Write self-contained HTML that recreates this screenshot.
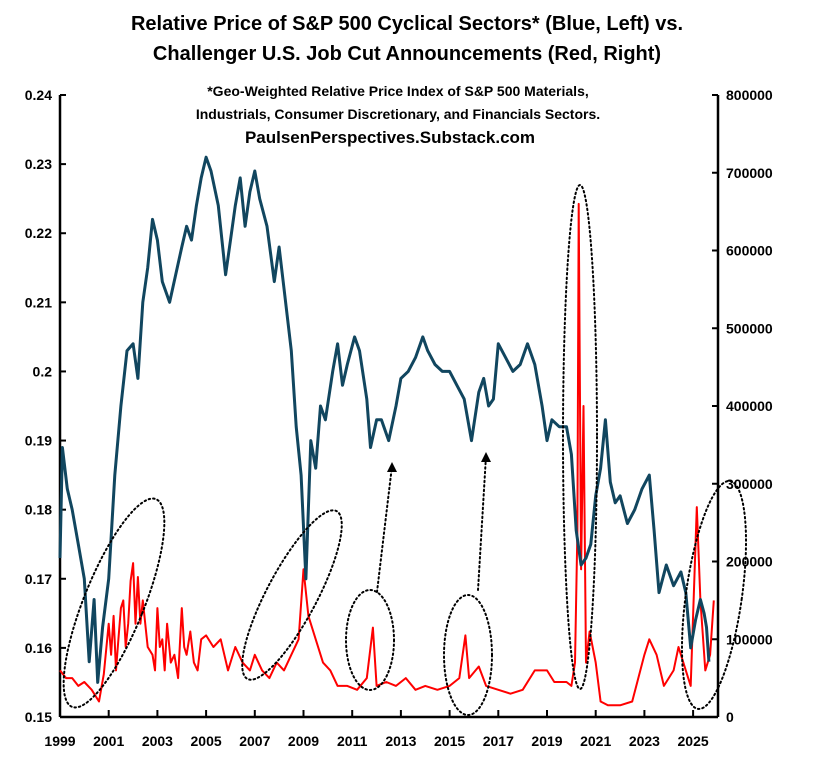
<!DOCTYPE html>
<html><head><meta charset="utf-8"><style>
body{margin:0;background:#fff;width:815px;height:760px;overflow:hidden}
text{font-family:"Liberation Sans",Arial,sans-serif;font-weight:bold;fill:#000}
</style></head><body>
<svg id="chart" width="815" height="760" viewBox="0 0 815 760">
<text x="407" y="30" font-size="20" text-anchor="middle">Relative Price of S&amp;P 500 Cyclical Sectors* (Blue, Left) vs.</text>
<text x="407" y="60" font-size="20" text-anchor="middle">Challenger U.S. Job Cut Announcements (Red, Right)</text>
<text x="398" y="96" font-size="14" text-anchor="middle">*Geo-Weighted Relative Price Index of S&amp;P 500 Materials,</text>
<text x="398" y="119" font-size="14" text-anchor="middle">Industrials, Consumer Discretionary, and Financials Sectors.</text>
<text x="390" y="143" font-size="17" text-anchor="middle">PaulsenPerspectives.Substack.com</text>
<g id="axes"></g><g id="series"></g><g id="annot"></g>
</svg>
<script>
const xTicks=[1999,2001,2003,2005,2007,2009,2011,2013,2015,2017,2019,2021,2023,2025];
const leftTicks=[0.15,0.16,0.17,0.18,0.19,0.2,0.21,0.22,0.23,0.24];
const leftLabels=["0.15","0.16","0.17","0.18","0.19","0.2","0.21","0.22","0.23","0.24"];
const rightTicks=[0,100000,200000,300000,400000,500000,600000,700000,800000];
const blueT=[1999,1999.1,1999.3,1999.5,1999.75,2000,2000.2,2000.4,2000.55,2000.75,2001,2001.25,2001.5,2001.75,2002,2002.2,2002.4,2002.6,2002.8,2003,2003.2,2003.5,2003.75,2004,2004.2,2004.4,2004.6,2004.8,2005,2005.2,2005.5,2005.8,2006,2006.2,2006.4,2006.6,2006.8,2007,2007.2,2007.5,2007.8,2008,2008.2,2008.5,2008.7,2008.9,2009.1,2009.3,2009.5,2009.7,2009.9,2010.2,2010.4,2010.6,2010.8,2011.1,2011.3,2011.6,2011.75,2012,2012.2,2012.5,2012.8,2013,2013.3,2013.6,2013.9,2014.1,2014.4,2014.7,2015,2015.3,2015.6,2015.9,2016.2,2016.4,2016.6,2016.8,2017,2017.3,2017.6,2017.9,2018.2,2018.5,2018.8,2019,2019.2,2019.5,2019.8,2020,2020.2,2020.4,2020.6,2020.8,2021,2021.2,2021.4,2021.6,2021.8,2022,2022.3,2022.6,2022.9,2023.2,2023.4,2023.6,2023.9,2024.2,2024.5,2024.7,2024.9,2025.1,2025.3,2025.45,2025.55,2025.65];
const blueV=[0.173,0.189,0.183,0.18,0.175,0.17,0.158,0.167,0.155,0.163,0.17,0.185,0.195,0.203,0.204,0.199,0.21,0.215,0.222,0.219,0.213,0.21,0.214,0.218,0.221,0.219,0.224,0.228,0.231,0.229,0.224,0.214,0.219,0.224,0.228,0.221,0.226,0.229,0.225,0.221,0.213,0.218,0.212,0.203,0.192,0.185,0.17,0.19,0.186,0.195,0.193,0.2,0.204,0.198,0.201,0.205,0.203,0.196,0.189,0.193,0.193,0.19,0.195,0.199,0.2,0.202,0.205,0.203,0.201,0.2,0.2,0.198,0.196,0.19,0.197,0.199,0.195,0.196,0.204,0.202,0.2,0.201,0.204,0.201,0.195,0.19,0.193,0.192,0.192,0.188,0.177,0.172,0.173,0.175,0.182,0.186,0.193,0.184,0.181,0.182,0.178,0.18,0.183,0.185,0.177,0.168,0.172,0.169,0.171,0.168,0.16,0.164,0.167,0.165,0.163,0.158,0.155];
const redT=[1999,1999.25,1999.5,1999.75,2000,2000.3,2000.6,2000.8,2001,2001.1,2001.2,2001.3,2001.4,2001.5,2001.6,2001.7,2001.8,2001.9,2002,2002.1,2002.2,2002.3,2002.4,2002.6,2002.8,2002.9,2003,2003.1,2003.2,2003.3,2003.4,2003.55,2003.7,2003.85,2004,2004.1,2004.2,2004.35,2004.5,2004.65,2004.8,2005,2005.3,2005.6,2005.9,2006.2,2006.5,2006.8,2007,2007.3,2007.6,2007.9,2008.2,2008.5,2008.8,2009,2009.2,2009.5,2009.8,2010.1,2010.4,2010.8,2011.2,2011.6,2011.85,2012,2012.4,2012.8,2013.2,2013.6,2014,2014.5,2015,2015.4,2015.65,2015.8,2016.2,2016.5,2017,2017.5,2018,2018.5,2019,2019.3,2019.8,2020,2020.15,2020.25,2020.3,2020.4,2020.5,2020.6,2020.75,2021,2021.2,2021.5,2022,2022.5,2023,2023.2,2023.5,2023.8,2024.2,2024.4,2024.7,2024.9,2025.15,2025.3,2025.5,2025.7,2025.85];
const redV=[60000,50000,50000,40000,45000,35000,20000,55000,120000,80000,130000,60000,100000,140000,150000,90000,120000,175000,198000,120000,180000,120000,150000,90000,80000,60000,140000,90000,100000,60000,120000,70000,80000,50000,140000,90000,80000,110000,70000,60000,100000,105000,90000,100000,60000,90000,70000,60000,80000,60000,50000,70000,60000,80000,100000,190000,130000,100000,70000,60000,40000,40000,35000,50000,115000,40000,45000,40000,50000,35000,40000,35000,40000,50000,105000,50000,65000,40000,35000,30000,35000,60000,60000,45000,45000,40000,70000,240000,660000,190000,400000,70000,110000,70000,20000,15000,15000,20000,80000,100000,80000,40000,60000,90000,60000,40000,270000,150000,60000,80000,150000];
const X0=60,X1=718,Y0=717,Y1=95;
const xs=t=>X0+(t-1999)*24.35;
const yl=v=>Y0-(v-0.15)/0.09*(Y0-Y1);
const yr=v=>Y0-v/800000*(Y0-Y1);
const NS="http://www.w3.org/2000/svg";
function mk(tag,attrs,parent,txt){const e=document.createElementNS(NS,tag);for(const k in attrs)e.setAttribute(k,attrs[k]);if(txt!==undefined)e.textContent=txt;parent.appendChild(e);return e;}
const ax=document.getElementById('axes');
let e=mk('line',{x1:X0,y1:Y1,x2:X0,y2:Y0,stroke:'#000','stroke-width':2.5},ax);


e=mk('line',{x1:X1,y1:Y1,x2:X1,y2:Y0,stroke:'#000','stroke-width':2.5},ax);


e=mk('line',{x1:X0,y1:Y0,x2:X1,y2:Y0,stroke:'#000','stroke-width':2.5},ax);


leftTicks.forEach((v,i)=>{const y=yl(v);
mk('line',{x1:X0,y1:y,x2:X0+6,y2:y,stroke:'#000','stroke-width':2},ax);
const t=mk('text',{x:X0-8,y:y+5,'font-size':14,'text-anchor':'end'},ax,leftLabels[i]);

});
rightTicks.forEach(v=>{const y=yr(v);
mk('line',{x1:X1-6,y1:y,x2:X1,y2:y,stroke:'#000','stroke-width':2},ax);
const t=mk('text',{x:X1+8,y:y+5,'font-size':14},ax,String(v));

});
xTicks.forEach(v=>{const x=xs(v);
mk('line',{x1:x,y1:Y0,x2:x,y2:Y0-7,stroke:'#000','stroke-width':2},ax);
const t=mk('text',{x:x,y:Y0+29,'font-size':14,'text-anchor':'middle'},ax,String(v));

});
const sg=document.getElementById('series');
const rp=mk('path',{d:redT.map((t,i)=>(i?'L':'M')+xs(t).toFixed(1)+','+yr(redV[i]).toFixed(1)).join(''),fill:'none',stroke:'#ff0000','stroke-width':2,'stroke-linejoin':'round'},sg);


const bp=mk('path',{d:blueT.map((t,i)=>(i?'L':'M')+xs(t).toFixed(1)+','+yl(blueV[i]).toFixed(1)).join(''),fill:'none',stroke:'#11465f','stroke-width':3,'stroke-linejoin':'round'},sg);


const an=document.getElementById('annot');
[[114,603,30,112,22],[292,595,25,95,28],[370,640,24,50,0],[468,655,24,60,0],[580,437,17,252,0],[714,595,28,115,8]].forEach(a=>{
const el=mk('ellipse',{cx:a[0],cy:a[1],rx:a[2],ry:a[3],transform:`rotate(${a[4]} ${a[0]} ${a[1]})`,fill:'none',stroke:'#000','stroke-width':2,'stroke-dasharray':'1.5 3','stroke-linecap':'round'},an);

});
[[377,592,392,466],[478,590,486,456]].forEach(a=>{
const l=mk('line',{x1:a[0],y1:a[1],x2:a[2],y2:a[3],stroke:'#000','stroke-width':2,'stroke-dasharray':'1.5 3','stroke-linecap':'round'},an);


const h=mk('polygon',{points:`${a[2]-5},${a[3]+6} ${a[2]+5},${a[3]+6} ${a[2]},${a[3]-4}`,fill:'#000'},an);

});
</script>
</body></html>
